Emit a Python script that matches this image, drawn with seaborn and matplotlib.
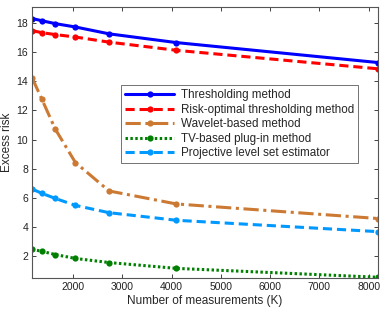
import matplotlib
matplotlib.use("Agg")
import matplotlib.pyplot as plt
import seaborn as sns
import pandas as pd

# number of measurements K = 8192 / n
measurements = [1170, 1365, 1638, 2048, 2731, 4096, 8192]

thresholding = [18.30, 18.15, 17.95, 17.72, 17.25, 16.65, 15.28]
risk_optimal = [17.47, 17.33, 17.20, 17.03, 16.68, 16.12, 14.85]
wavelet = [14.22, 12.78, 10.72, 8.42, 6.47, 5.58, 4.58]
tv_plugin = [2.47, 2.33, 2.11, 1.84, 1.56, 1.16, 0.55]
projective = [6.60, 6.31, 5.96, 5.48, 4.98, 4.46, 3.68]

series = [
    ("Thresholding method", thresholding, "#0000ff", "-"),
    ("Risk-optimal thresholding method", risk_optimal, "#ff0000", (0, (3, 1.6))),
    ("Wavelet-based method", wavelet, "#cc7a33", (0, (5, 1.5, 1, 1.5))),
    ("TV-based plug-in method", tv_plugin, "#008000", (0, (0.8, 0.8))),
    ("Projective level set estimator", projective, "#0099ff", (0, (3, 1.6))),
]

sns.set_style("ticks")
plt.rcParams["font.family"] = ["Liberation Sans", "DejaVu Sans"]
plt.rcParams["font.size"] = 7.5

fig = plt.figure(figsize=(3.83, 3.12), dpi=100)
ax = fig.add_axes([0.084, 0.109, 0.903, 0.869])

for name, vals, color, ls in series:
    df = pd.DataFrame({"K": measurements, "risk": vals})
    sns.lineplot(data=df, x="K", y="risk", ax=ax, color=color, linestyle=ls,
                 linewidth=2.2, marker="o", markersize=4.5, markeredgewidth=0,
                 label=name)

ax.set_xlim(1170, 8192)
ax.set_ylim(0.5, 19.1)
ax.set_xticks([2000, 3000, 4000, 5000, 6000, 7000, 8000])
ax.set_yticks([2, 4, 6, 8, 10, 12, 14, 16, 18])
ax.set_xlabel("Number of measurements (K)", fontsize=8.5, labelpad=2)
ax.set_ylabel("Excess risk", fontsize=8.5, labelpad=2)
ax.tick_params(direction="in", top=True, right=True, length=3, width=0.6,
               labelsize=7.5, pad=3, colors="#222222")
for s in ax.spines.values():
    s.set_linewidth(0.8)
    s.set_color("#555555")

leg = ax.legend(loc="upper left", bbox_to_anchor=(0.257, 0.712), frameon=True,
                fancybox=False, edgecolor="#333333", fontsize=8.4,
                handlelength=4.2, borderpad=0.35, labelspacing=0.22,
                handletextpad=0.6, borderaxespad=0)
leg.get_frame().set_linewidth(0.6)

fig.savefig("out.png", dpi=100)
